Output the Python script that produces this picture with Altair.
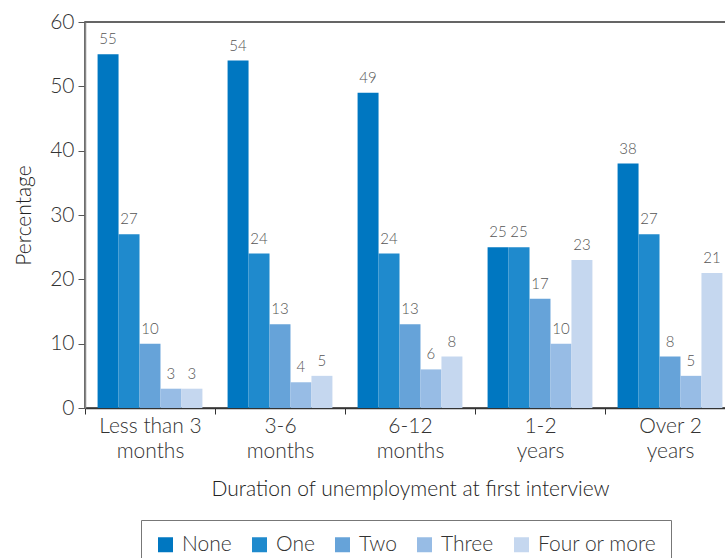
import altair as alt
import pandas as pd

durations = ["Less than 3 months", "3-6 months", "6-12 months", "1-2 years", "Over 2 years"]
counts = ["None", "One", "Two", "Three", "Four or more"]
colors = ["#0077C1", "#1F8ACD", "#66A3D9", "#97BCE5", "#C5D7EF"]

none_vals = [55, 54, 49, 25, 38]
one_vals = [27, 24, 24, 25, 27]
two_vals = [10, 13, 13, 17, 8]
three_vals = [3, 4, 6, 10, 5]
four_vals = [3, 5, 8, 23, 21]

series = [none_vals, one_vals, two_vals, three_vals, four_vals]
rows = []
for name, vals in zip(counts, series):
    for d, v in zip(durations, vals):
        rows.append({"duration": d, "group": name, "pct": v})
df = pd.DataFrame(rows)

FONT = "Lato"
WEIGHT = 300

x = alt.X(
    "duration:N",
    sort=durations,
    title="Duration of unemployment at first interview",
    scale=alt.Scale(paddingInner=0, paddingOuter=0),
    axis=alt.Axis(
        labelAngle=0,
        labelExpr="[slice(datum.label, 0, lastindexof(datum.label, ' ')), "
                  "slice(datum.label, lastindexof(datum.label, ' ') + 1)]",
        labelLineHeight=25,
        labelFontSize=21,
        labelPadding=1,
        titleFontSize=21,
        titlePadding=17,
        tickBand="extent",
        tickSize=6,
        domainColor="#333",
        tickColor="#333",
        domainWidth=1.5,
    ),
)
xo = alt.XOffset(
    "group:N",
    sort=counts,
    scale=alt.Scale(paddingInner=0, paddingOuter=0.6),
)
y = alt.Y(
    "pct:Q",
    title="Percentage",
    scale=alt.Scale(domain=[0, 60], nice=False),
    axis=alt.Axis(
        values=[0, 10, 20, 30, 40, 50, 60],
        labelFontSize=21,
        tickSize=7,
        labelPadding=4,
        titleFontSize=21,
        titlePadding=15,
        domainColor="#888",
        tickColor="#555",
        domainWidth=1.5,
        grid=False,
    ),
)

bars = alt.Chart(df).mark_bar().encode(
    x=x,
    xOffset=xo,
    y=y,
    color=alt.Color(
        "group:N",
        sort=counts,
        scale=alt.Scale(domain=counts, range=colors),
        legend=alt.Legend(
            title=None,
            orient="none",
            legendX=56,
            legendY=498,
            direction="horizontal",
            columns=5,
            symbolType="square",
            symbolSize=225,
            symbolStrokeWidth=0,
            labelFontSize=21,
            labelFontWeight=WEIGHT,
            labelFont=FONT,
            labelColor="#333",
            labelOffset=6,
            columnPadding=17,
            padding=14,
            strokeColor="#777",
            fillColor="white",
        ),
    ),
)

labels = alt.Chart(df).mark_text(
    baseline="bottom", dy=-7, fontSize=15, color="#555", font=FONT,
    fontWeight=WEIGHT,
).encode(
    x=alt.X("duration:N", sort=durations),
    xOffset=alt.XOffset("group:N", sort=counts),
    y="pct:Q",
    text="pct:Q",
)

chart = (
    alt.layer(bars, labels)
    .properties(
        width=650,
        height=386,
        autosize=alt.AutoSizeParams(type="none"),
        padding={"left": 85, "top": 22, "right": -10, "bottom": 150},
    )
    .configure_view(stroke="#333", strokeWidth=1.5)
    .configure_axis(labelFont=FONT, titleFont=FONT, labelColor="#333",
                    titleColor="#222", titleFontWeight=WEIGHT,
                    labelFontWeight=WEIGHT)
)

chart.save("out.html", embed_options={"renderer": "svg", "actions": False})
